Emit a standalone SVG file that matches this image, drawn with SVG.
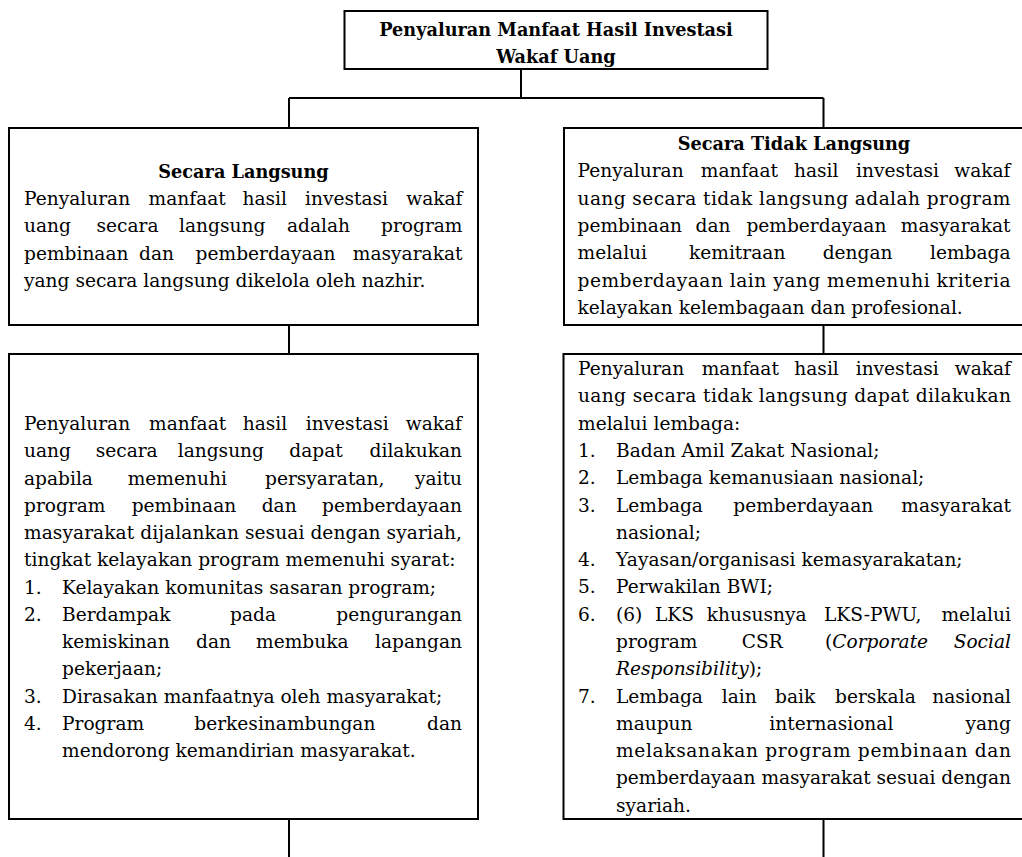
<svg xmlns="http://www.w3.org/2000/svg" width="1022" height="857" viewBox="0 0 1022 857">
<style>
.box{fill:#fff;stroke:#000;stroke-width:2}
.ln{stroke:#000;stroke-width:2;fill:none}
text{font-family:"DejaVu Serif","Liberation Serif",serif;font-size:18.6px;fill:#000}
.b{font-weight:bold;font-size:17.7px}
.c{text-anchor:middle}
.e{text-anchor:end}
.i{font-style:italic}
</style>
<rect width="1022" height="857" fill="#fff"/>
<g id="connectors">
<path class="ln" d="M521 69V98M289 98H823.5M289 98V128M823.5 98V128"/>
<path class="ln" d="M289 325V354M823.5 325V354"/>
<path class="ln" d="M289 819V857M823.5 819V857"/>
</g>
<g id="root">
<rect class="box" x="344.5" y="11" width="423" height="58"/>
<text class="b c" x="556" y="36">Penyaluran Manfaat Hasil Investasi</text>
<text class="b c" x="556" y="63">Wakaf Uang</text>
</g>
<g id="langsung">
<rect class="box" x="9" y="128" width="469" height="197"/>
<text class="b c" x="243.5" y="178">Secara Langsung</text>
<text y="205"><tspan x="24">Penyaluran</tspan><tspan x="148.6">manfaat</tspan><tspan x="242.5">hasil</tspan><tspan x="305">investasi</tspan><tspan x="462.5" class="e">wakaf</tspan></text>
<text y="232.3"><tspan x="24">uang</tspan><tspan x="96.5">secara</tspan><tspan x="179">langsung</tspan><tspan x="287">adalah</tspan><tspan x="462.5" class="e">program</tspan></text>
<text y="259.6"><tspan x="24">pembinaan</tspan><tspan x="139">dan</tspan><tspan x="195.6">pemberdayaan</tspan><tspan x="462.5" class="e">masyarakat</tspan></text>
<text x="24" y="287">yang secara langsung dikelola oleh nazhir.</text>
</g>
<g id="tidak-langsung">
<rect class="box" x="564" y="128" width="470" height="197"/>
<text class="b c" x="794" y="150">Secara Tidak Langsung</text>
<text y="177.3"><tspan x="577.5">Penyaluran</tspan><tspan x="700.8">manfaat</tspan><tspan x="794">hasil</tspan><tspan x="856">investasi</tspan><tspan x="1010.5" class="e">wakaf</tspan></text>
<text x="577.5" y="204.6" textLength="433" lengthAdjust="spacing">uang secara tidak langsung adalah program</text>
<text y="232"><tspan x="577.5">pembinaan</tspan><tspan x="695.6">dan</tspan><tspan x="746.4">pemberdayaan</tspan><tspan x="1010.5" class="e">masyarakat</tspan></text>
<text y="259.2"><tspan x="577.5">melalui</tspan><tspan x="689">kemitraan</tspan><tspan x="822.7">dengan</tspan><tspan x="1010.5" class="e">lembaga</tspan></text>
<text x="577.5" y="286.5" textLength="433" lengthAdjust="spacing">pemberdayaan lain yang memenuhi kriteria</text>
<text x="577.5" y="313.8">kelayakan kelembagaan dan profesional.</text>
</g>
<g id="syarat-langsung">
<rect class="box" x="9" y="354" width="469" height="465"/>
<text y="430"><tspan x="24">Penyaluran</tspan><tspan x="149">manfaat</tspan><tspan x="242.7">hasil</tspan><tspan x="305.7">investasi</tspan><tspan x="462" class="e">wakaf</tspan></text>
<text y="457.25"><tspan x="24">uang</tspan><tspan x="95.7">secara</tspan><tspan x="177.7">langsung</tspan><tspan x="289.3">dapat</tspan><tspan x="462" class="e">dilakukan</tspan></text>
<text y="484.5"><tspan x="24">apabila</tspan><tspan x="127.7">memenuhi</tspan><tspan x="265">persyaratan,</tspan><tspan x="462" class="e">yaitu</tspan></text>
<text y="511.75"><tspan x="24">program</tspan><tspan x="131.7">pembinaan</tspan><tspan x="261.7">dan</tspan><tspan x="462" class="e">pemberdayaan</tspan></text>
<text x="24" y="539" textLength="438" lengthAdjust="spacing">masyarakat dijalankan sesuai dengan syariah,</text>
<text x="24" y="566.25">tingkat kelayakan program memenuhi syarat:</text>
<text y="593.5"><tspan x="24">1.</tspan><tspan x="62">Kelayakan komunitas sasaran program;</tspan></text>
<text y="620.75"><tspan x="24">2.</tspan><tspan x="62">Berdampak</tspan><tspan x="230">pada</tspan><tspan x="462" class="e">pengurangan</tspan></text>
<text y="648"><tspan x="62">kemiskinan</tspan><tspan x="196">dan</tspan><tspan x="256">membuka</tspan><tspan x="462" class="e">lapangan</tspan></text>
<text x="62" y="675.25">pekerjaan;</text>
<text y="702.5"><tspan x="24">3.</tspan><tspan x="62">Dirasakan manfaatnya oleh masyarakat;</tspan></text>
<text y="729.75"><tspan x="24">4.</tspan><tspan x="62">Program</tspan><tspan x="194.3">berkesinambungan</tspan><tspan x="462" class="e">dan</tspan></text>
<text x="62" y="757">mendorong kemandirian masyarakat.</text>
</g>
<g id="lembaga-tidak-langsung">
<rect class="box" x="563.5" y="354" width="470" height="465"/>
<text y="375"><tspan x="578">Penyaluran</tspan><tspan x="701.7">manfaat</tspan><tspan x="794.3">hasil</tspan><tspan x="855.7">investasi</tspan><tspan x="1011" class="e">wakaf</tspan></text>
<text x="578" y="402.3" textLength="433" lengthAdjust="spacing">uang secara tidak langsung dapat dilakukan</text>
<text x="578" y="429.6">melalui lembaga:</text>
<text y="456.9"><tspan x="578">1.</tspan><tspan x="616">Badan Amil Zakat Nasional;</tspan></text>
<text y="484.2"><tspan x="578">2.</tspan><tspan x="616">Lembaga kemanusiaan nasional;</tspan></text>
<text y="511.5"><tspan x="578">3.</tspan><tspan x="616">Lembaga</tspan><tspan x="733.3">pemberdayaan</tspan><tspan x="1011" class="e">masyarakat</tspan></text>
<text x="616" y="538.7">nasional;</text>
<text y="566"><tspan x="578">4.</tspan><tspan x="616">Yayasan/organisasi kemasyarakatan;</tspan></text>
<text y="593.3"><tspan x="578">5.</tspan><tspan x="616">Perwakilan BWI;</tspan></text>
<text y="620.6"><tspan x="578">6.</tspan><tspan x="616">(6)</tspan><tspan x="655">LKS</tspan><tspan x="706.7">khususnya</tspan><tspan x="824">LKS-PWU,</tspan><tspan x="1011" class="e">melalui</tspan></text>
<text y="647.9"><tspan x="616">program</tspan><tspan x="741.7">CSR</tspan><tspan x="825">(</tspan><tspan class="i">Corporate</tspan><tspan x="1011" class="e i">Social</tspan></text>
<text x="616" y="675.2"><tspan class="i">Responsibility</tspan>);</text>
<text y="702.5"><tspan x="578">7.</tspan><tspan x="616">Lembaga</tspan><tspan x="721.7">lain</tspan><tspan x="775">baik</tspan><tspan x="835">berskala</tspan><tspan x="1011" class="e">nasional</tspan></text>
<text y="729.8"><tspan x="616">maupun</tspan><tspan x="769.3">internasional</tspan><tspan x="1011" class="e">yang</tspan></text>
<text x="616" y="757.1" textLength="395" lengthAdjust="spacing">melaksanakan program pembinaan dan</text>
<text x="616" y="784.4" textLength="395" lengthAdjust="spacing">pemberdayaan masyarakat sesuai dengan</text>
<text x="616" y="811.7">syariah.</text>
</g>
</svg>
